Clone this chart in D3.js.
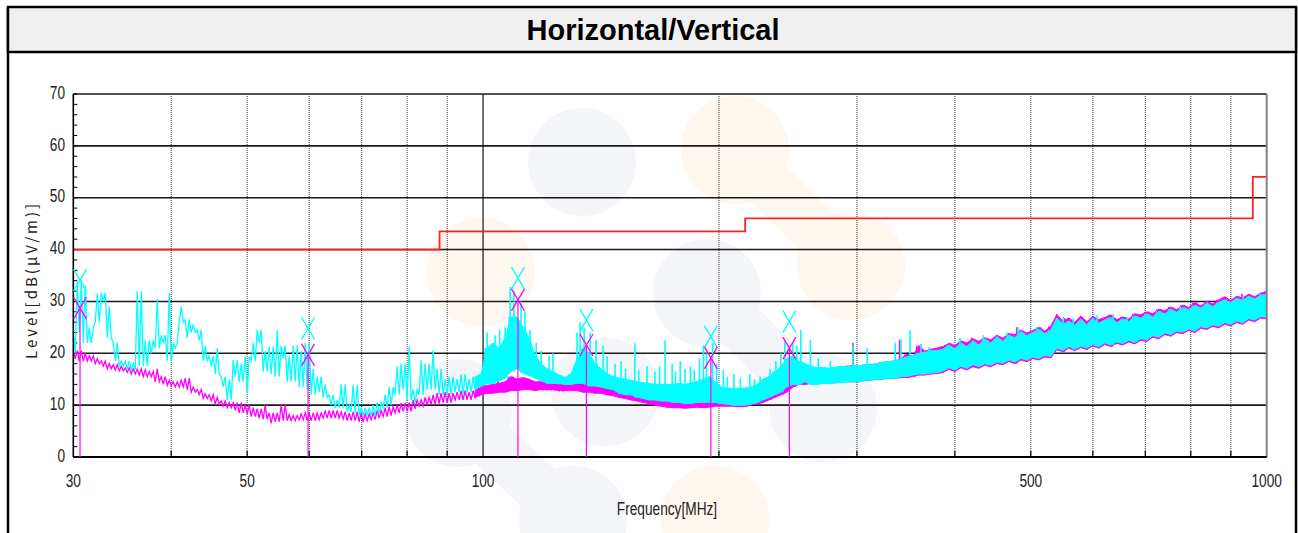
<!DOCTYPE html>
<html>
<head>
<meta charset="utf-8">
<script src="https://cdn.jsdelivr.net/npm/d3@7/dist/d3.min.js"></script>
<style>
body{margin:0;background:#fff;}
text{font-family:"Liberation Sans",Arial,sans-serif;fill:#222;}
</style>
</head>
<body>
<svg id="chart" width="1298" height="533"></svg>
<script>
// sweep: 200 display points, log spaced 30 MHz .. 1000 MHz (one per ~6 px)
var sweepStart = 30, sweepStop = 1000, sweepPoints = 200;
// above this the traces are a dense band
var denseFrom = 96;

// per display point min / max level, dB(uV/m)  (max = top of the dense band)
var cyanLo = [
20,24,22,22,26,30,23,18.5,17.5,17, 16.8,17.5,17.5,20,21,22,18.5,21,26,23,
24,22.5,18.5,17.5,16,13.5,11,15.5,14.5,12.3, 18.5,22,16.5,16,15.5,19,14.5,14.5,13.5,13,
12,12.5,11.5,10,9.5,9.5,8.7,8.5,8,8, 8,8.5,9.5,10,12,13,11,10.5,12,13,
13,12,12,12,12.5,12,12.5,13,13.7,14.2, 14.2,14.7,15.2,16.5,17,16.2,15.7,15.2,14.7,14.2,
14.2,14.2,14,14,14.2,14.2,13.7,13.7,13.5,13.2, 13,12.3,12,12,11.5,11.3,11,11,10.8,10.8,
10.5,10.5,10.3,10.3,10.5,10.5,10.5,10.5,10.3,10.2, 10,10,10,10.2,10.5,11,11.5,12,12.5,13.5,
14,14,14.5,14,14,14.2,14.2,14.3,14.3,14.5, 14.5,14.5,14.8,14.8,15,15,15.2,15.2,15.5,15.5,
15.8,16,16,16.2,16.3,16.6,17.2,16.8,17.5,17.1, 17.8,17.4,18,17.7,18.3,18.1,18.7,18.3,19,18.7,
19.3,19,19.6,19.4,21,20.6,21.3,20.8,21.4,21, 21.7,21.3,22,21.6,22.2,21.9,22.5,22.1,22.8,22.6,
23.4,23.1,23.9,23.6,24.3,24.1,24.7,24.3,25.1,24.9, 25.5,25.2,25.9,25.6,26.2,25.9,26.7,26.4,27.1,26.9
];
var cyanHi = [
24,34,33,25,31.5,31.7,29,22,18.5,18.5, 18,32,22.5,22.5,30.5,23.5,31.6,22,29,26.5,
25.5,24.5,21.5,19.5,21,15.5,15,18.7,18,19.4, 22,24.5,20.5,21.3,24.5,21.5,19.5,21.5,20.5,22,
17,15.5,14,12,11,14,10,13.9,9.5,9.5, 10,10.5,12,13.5,17.5,18,21.3,13,18.7,18,
20.6,17,15,15.5,15,16,15,15.5,16,21, 22,21,23,27,27,25,23,19.5,18,17,
16.5,15.8,15.3,16,19,21,20,18,17,16, 15.5,15.2,15,14.8,14.5,14.3,14.2,14,14,14,
14,14.2,14,14.3,14.5,15,15.5,14.5,13.5,13.3, 13.2,13.2,13.3,13.5,14,15,15.5,16.5,17.5,19,
19.5,18.5,18,17.5,17.2,17.3,17.1,17.3,17.5,17.4, 17.6,17.6,17.8,17.9,18,18.3,18.4,18.6,18.9,19.3,
19.6,20,20.2,20.5,20.5,20.8,21.6,20.9,22,21.3, 22.4,21.6,22.8,22,23.2,22.3,23.5,23,24.2,23.4,
24,24.6,23.8,24.5,26.8,25.6,26.2,25.4,26.6,25.5, 26.8,25.8,26.4,26.9,25.9,26.6,26.1,27.2,26.8,27.6,
27,28.1,27.6,28.5,27.9,28.8,28.4,29.2,28.7,29.6, 29,29.8,30.3,29.8,30.6,30.2,31,30.5,31.2,31.4
];
var magLo = [
19,18.5,18.5,18.5,18,17.5,17,16.8,16.6,16.3, 16,15.8,15.5,15.5,14.5,14,13.8,13.5,13.5,13,
12.5,12,11.3,10.8,10.2,9.8,9.5,9,8.5,8.3, 7.8,7.5,7.3,6.5,6.8,7,7,7,7.2,7,
7,7.2,7.5,7.5,7.5,7.3,7,7,6.8,7, 7.2,7.5,7.8,8,8.5,8.8,8.8,9.3,9.8,10,
10.2,10.3,10.5,10.5,11,11,11,11.5,12,12.3, 12.3,12.5,12.5,12.8,12.8,13,13,12.8,13,13,
13,12.8,12.8,12.8,12.8,12.5,12.5,12.3,12.3,12, 11.8,11.5,11.3,11,10.8,10.5,10.3,10,9.8,9.6,
9.5,9.5,9.4,9.5,9.6,9.5,9.6,9.8,9.8,9.8, 9.8,9.7,9.7,10,10.2,10.5,11,11.5,12,12.5,
13.5,14,14,14.2,14.2,14.3,14.3,14.3,14.5,14.5, 14.5,14.5,14.8,14.8,15,15,15.2,15.2,15.3,15.3,
15.5,15.8,15.8,16,16.1,16.3,16.9,16.5,17.2,16.8, 17.4,17.1,17.7,17.4,18,17.8,18.4,18,18.7,18.4,
19,18.7,19.3,19.1,20.7,20.3,21,20.5,21.1,20.7, 21.4,21,21.7,21.3,21.9,21.6,22.2,21.8,22.5,22.3,
23.1,22.8,23.6,23.3,24,23.8,24.4,24,24.8,24.6, 25.2,24.9,25.6,25.3,25.9,25.6,26.4,26.1,26.8,26.6
];
var magHi = [
20.5,20.5,20,19.5,19,18.5,18,17.8,17.5,17.2, 17,17,16.8,16.5,17,15.5,14.8,14.5,14.8,15.2,
13.5,13,12.2,12,11.5,10.8,10.5,10.5,10.5,10, 9.5,9.3,10,8.5,8.5,10,8.2,8,8.3,8.5,
8.5,8.5,9,9,9,8.7,8.5,8.7,8.5,8.3, 8.5,9,9.5,9.7,10,10.4,10.5,11,11,11.5,
12,12.3,12.5,12.3,12.5,12.8,12.5,12.8,13.5,13.8, 14,14.2,14.5,15.5,15,15.3,15,14.5,14.5,14.3,
14.2,14,14.2,14.5,15.5,15,15.5,14.5,14,13.8, 13.5,13.3,13,12.8,13,12.5,12.5,12.3,12.5,12.3,
12,12.5,12,12.3,12,12.5,12.3,12,11.8,11.8, 12,11.8,11.8,12,12.3,12.5,13,13.8,14.5,15,
15.5,16,16.3,16.5,16.8,17,16.8,17,17.3,17.5, 17.6,17.5,17.8,17.8,18,18.3,18.3,18.5,19,19.8,
19.5,21.5,20.4,20.8,21,21.3,21.9,21.5,22.4,22, 22.8,22.3,23,22.6,23.5,22.9,23.8,23.6,24.5,23.9,
24.4,25,24.3,25.2,27.5,26.2,26.8,26,27.2,26.1, 27.1,26.5,26.9,27.4,26.5,27,26.6,27.6,27.4,28,
27.6,28.5,28.2,28.9,28.4,29.3,28.8,29.8,29.1,30, 29.5,30.3,30.9,30.2,31,30.7,31.4,30.9,31.6,31.9
];

// narrow spikes standing out of the dense band: MHz, dB(uV/m)
var cyanSpikeFreq = [101.2,103.6,105,106.7,108.3,109.5,111.8,113.1,114.8,116.9,118.6,121.4,122.8,
	131.8,133,134.6,137,139.4,142.3,144,147.4,150,152,156.2,158,161.9,165.7,168,170.7,174.3,176,
	178.5,181,183.9,186,188.9,191.1,192.8,196.3,198.6,202.6,205,209,213,219,222,225.7,232.4,236.4,
	239.9,242.7,248.5,251.4,254.4,261.7,267.8,277.4,296.6,309.2,335.7,341.5,350.6,362,371,
	406,434.6,466.4,481.7,509.3,549.7,566.2,607.4,636.8,663.6,753,775.5,839.3,879.8,933.1,980.9];
var cyanSpikeLevel = [24,23.5,24.5,25,32.8,32,30,28,24.5,22,20.5,19.5,20,
	24,26,25,24,22.5,21.5,19.5,18,18.5,17,22,16.8,17.5,16.5,17.5,22.5,18,16.5,
	18.5,17,17.5,16.8,19,21.5,20,22,18,16.8,15.5,16,15.2,16,15,15.5,17,18.5,
	20,22.5,22,21.5,24.5,22.6,19,18.5,21.6,21,22,22.8,24.5,21.8,21.2,
	23,23.5,24,25,25,27,26.8,27.3,27.5,27,28.5,29,29.8,30.3,31,31.5];
var magSpikeFreq = [104.5,119.5,296.6,340,395,420,480,552,635,775,930];
var magSpikeLevel = [16,15.5,22,22.5,22,23,25,26.8,27.4,28.8,31.5];

// limit line (frequency where the step starts, level)
var limitFreq = [30, 88, 216, 960, 1000];
var limitLevel = [40, 43.5, 46, 54, 54];

// peak markers
var markerFreq = [30.6, 59.8, 110.8, 135.5, 195.3, 246.0];
var markerCyan = [34.1, 24.8, 34.5, 26.4, 23.2, 26.1];
var markerMag = [28.7, 19.7, 30.3, 21.6, 19.1, 21.0];

var gridFreq = [40, 50, 60, 70, 80, 90, 200, 300, 400, 500, 600, 700, 800, 900];
var xTickLabels = [30, 50, 100, 500, 1000];
var yTicks = [0, 10, 20, 30, 40, 50, 60, 70];
var yMinor = d3.range(0, 72, 2);

var svg = d3.select("#chart");

var x = d3.scaleLog().domain([30, 1000]).range([73.3, 1266.7]);
var y = d3.scaleLinear().domain([0, 70]).range([457, 94]);

// background logo watermark
var wm = svg.append("g").attr("class","watermark");
var wmGray = [[582,162],[707,293],[605,392],[823,408],[458,413],[573,520]];
var wmPeach = [[735,150],[851,266],[481,272],[715,520]];
var wmLinks = [[[735,150],[851,266],"#fdf7ef"],[[707,293],[823,408],"#f4f5f9"],[[458,413],[573,520],"#f4f5f9"]];
wm.selectAll(".wl").data(wmLinks).enter().append("line")
	.attr("x1",function(d){return d[0][0];}).attr("y1",function(d){return d[0][1];})
	.attr("x2",function(d){return d[1][0];}).attr("y2",function(d){return d[1][1];})
	.style("stroke",function(d){return d[2];}).style("stroke-width",50);
wm.selectAll(".wg").data(wmGray).enter().append("circle")
	.attr("cx",function(d){return d[0];}).attr("cy",function(d){return d[1];})
	.attr("r",54).style("fill","#f4f5f9");
wm.selectAll(".wp").data(wmPeach).enter().append("circle")
	.attr("cx",function(d){return d[0];}).attr("cy",function(d){return d[1];})
	.attr("r",54).style("fill","#fdf7ef");

// frame and title bar
svg.append("line").attr("x1",8).attr("y1",7).attr("x2",8).attr("y2",533)
	.style("stroke","#000").style("stroke-width",2.5);
svg.append("line").attr("x1",1296).attr("y1",7).attr("x2",1296).attr("y2",533)
	.style("stroke","#000").style("stroke-width",2.5);
svg.append("rect").attr("x",8).attr("y",7).attr("width",1288).attr("height",45)
	.style("fill","#f0f0f0").style("stroke","#000").style("stroke-width",2.5);
svg.append("text").attr("x",653).attr("y",40).attr("text-anchor","middle")
	.style("font-size","29px").style("font-weight","bold").style("fill","#000")
	.text("Horizontal/Vertical");

var plot = svg.append("g");

// grid
plot.selectAll(".hgrid").data(yTicks).enter().append("line")
	.attr("x1",x(30)).attr("x2",x(1000))
	.attr("y1",function(d){return y(d);}).attr("y2",function(d){return y(d);})
	.style("stroke","#1a1a1a").style("stroke-width",1.6);
plot.selectAll(".vgrid").data(gridFreq).enter().append("line")
	.attr("x1",function(d){return x(d);}).attr("x2",function(d){return x(d);})
	.attr("y1",y(70)).attr("y2",y(0))
	.style("stroke","#444").style("stroke-width",1.1).style("stroke-dasharray","1,1");
plot.selectAll(".btick").data(gridFreq).enter().append("line")
	.attr("x1",function(d){return x(d);}).attr("x2",function(d){return x(d);})
	.attr("y1",y(0)-6).attr("y2",y(0))
	.style("stroke","#000").style("stroke-width",1.2);
plot.append("line").attr("x1",x(100)).attr("x2",x(100)).attr("y1",y(70)).attr("y2",y(0))
	.style("stroke","#111").style("stroke-width",1.2);
plot.selectAll(".ytick").data(yMinor).enter().append("line")
	.attr("x1",x(30)).attr("x2",x(30)+4)
	.attr("y1",function(d){return y(d);}).attr("y2",function(d){return y(d);})
	.style("stroke","#000").style("stroke-width",1);

// traces (min/max per display point)
svg.append("clipPath").attr("id","plotClip").append("rect")
	.attr("x",x(30)).attr("y",y(70)).attr("width",x(1000)-x(30)).attr("height",y(0)-y(70));

var sweepFreq = d3.range(sweepPoints).map(function(i){
	return sweepStart * Math.pow(sweepStop / sweepStart, i / (sweepPoints - 1));
});
var nearest = d3.bisector(function(d){ return d; }).center;

function tracePath(lo, hi){
	var pts = [];
	for (var i = 0; i < sweepFreq.length; i++){
		var cx = x(sweepFreq[i]);
		var a = y(lo[i]), b = y(hi[i]);
		if (i % 2 == 0){
			pts.push([cx-2, a], [cx, b], [cx+2, a]);
		} else {
			pts.push([cx-2, b], [cx, a], [cx+2, b]);
		}
	}
	return d3.line()(pts);
}

function bandArea(lo, hi){
	var idx = d3.range(sweepFreq.length).filter(function(i){ return sweepFreq[i] >= denseFrom; });
	return d3.area()
		.x(function(i){ return x(sweepFreq[i]); })
		.y0(function(i){ return y(lo[i]); })
		.y1(function(i){ return y(hi[i]); })(idx);
}

var traces = svg.append("g").attr("clip-path","url(#plotClip)");
[[magLo, magHi, magSpikeFreq, magSpikeLevel, "#ff00ff"],
 [cyanLo, cyanHi, cyanSpikeFreq, cyanSpikeLevel, "#00ffff"]].forEach(function(t){
	var lo = t[0], hi = t[1], col = t[4];
	traces.append("path").attr("d", bandArea(lo, hi))
		.style("fill", col).style("stroke", col).style("stroke-width", 1);
	traces.append("path").attr("d", tracePath(lo, hi))
		.style("fill","none").style("stroke", col).style("stroke-width", 1.3);
	traces.selectAll(null).data(t[2]).enter().append("line")
		.attr("x1", function(f){ return x(f); }).attr("x2", function(f){ return x(f); })
		.attr("y1", function(f){ return y(lo[nearest(sweepFreq, f)]); })
		.attr("y2", function(f, i){ return y(t[3][i]); })
		.style("stroke", col).style("stroke-width", 1.6);
});

// limit
var limitData = limitFreq.map(function(f,i){ return [f, limitLevel[i]]; });
svg.append("path")
	.attr("d", d3.line().x(function(d){return x(d[0]);}).y(function(d){return y(d[1]);})
		.curve(d3.curveStepAfter)(limitData))
	.style("fill","none").style("stroke","#ff2020").style("stroke-width",1.8);

// axes lines
svg.append("line").attr("x1",x(30)).attr("x2",x(30)).attr("y1",y(70)).attr("y2",y(0))
	.style("stroke","#000").style("stroke-width",1.6);
svg.append("line").attr("x1",x(1000)).attr("x2",x(1000)).attr("y1",y(70)).attr("y2",y(0))
	.style("stroke","#808080").style("stroke-width",2);
svg.append("line").attr("x1",x(30)).attr("x2",x(1000)).attr("y1",y(0)).attr("y2",y(0))
	.style("stroke","#000").style("stroke-width",2);

// markers
var mk = svg.append("g");
markerFreq.forEach(function(f,i){
	var mx = x(f);
	mk.append("line").attr("x1",mx).attr("x2",mx).attr("y1",y(0)).attr("y2",y(markerMag[i]))
		.style("stroke","#ff00ff").style("stroke-width",1.2);
	[[markerCyan[i],"#00ffff"],[markerMag[i],"#ff00ff"]].forEach(function(m){
		var my = y(m[0]);
		mk.append("path")
			.attr("d","M"+(mx-6.5)+","+(my-11)+"L"+(mx+6.5)+","+(my+11)+"M"+(mx+6.5)+","+(my-11)+"L"+(mx-6.5)+","+(my+11))
			.style("stroke",m[1]).style("stroke-width",1.3).style("fill","none");
	});
});

// tick labels (narrow face)
svg.selectAll(".ylab").data(yTicks).enter().append("text")
	.attr("transform",function(d){return "translate(65,"+(y(d)+4.7)+") scale(0.72,1)";})
	.attr("text-anchor","end").style("font-size","19px")
	.text(function(d){return d;});
svg.selectAll(".xlab").data(xTickLabels).enter().append("text")
	.attr("transform",function(d){return "translate("+x(d)+",486.5) scale(0.72,1)";})
	.attr("text-anchor","middle").style("font-size","19px")
	.text(function(d){return d;});

svg.append("text").attr("transform","translate(667,515) scale(0.72,1)")
	.attr("text-anchor","middle").style("font-size","19px")
	.text("Frequency[MHz]");
svg.append("text").attr("transform","translate(37,280) rotate(-90)")
	.attr("text-anchor","middle")
	.style("font-family","'Noto Sans CJK JP','DejaVu Sans',sans-serif")
	.style("font-size","15px").style("letter-spacing","3px")
	.text("Level[dB(μV/m)]");
</script>
</body>
</html>
